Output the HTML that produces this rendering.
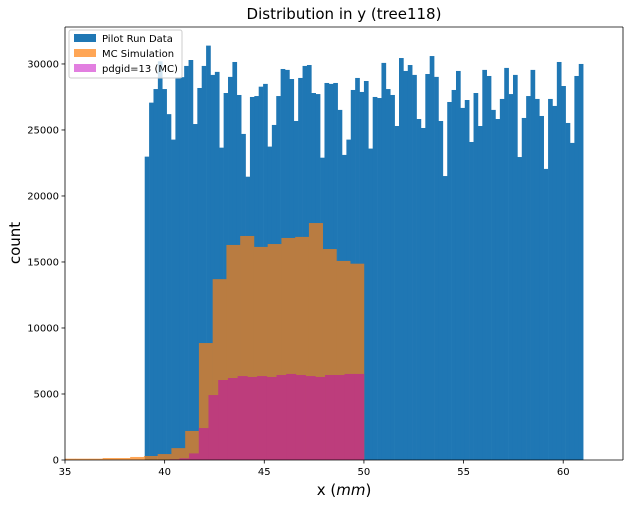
<!DOCTYPE html>
<html><head><meta charset="utf-8">
<style>
body{margin:0;background:#fff;font-family:"Liberation Sans","DejaVu Sans",sans-serif}
svg text{font-family:"DejaVu Sans","Liberation Sans",sans-serif}
</style></head>
<body>
<svg id="chart" width="630" height="506" viewBox="0 0 630 506" xmlns="http://www.w3.org/2000/svg">
<rect width="630" height="506" fill="#fff"/>
<text x="344" y="19" text-anchor="middle" font-size="15">Distribution in y (tree118)</text>
<g id="marks"></g>
<g id="axes"></g>
<text x="344" y="495" text-anchor="middle" font-size="15">x (<tspan font-style="italic">mm</tspan>)</text>
<text transform="translate(20,243) rotate(-90)" text-anchor="middle" font-size="15">count</text>
<g>
<rect x="69" y="30" width="113" height="48" fill="#fff" fill-opacity="0.8" stroke="#ccc" rx="2"/>
<rect x="74" y="34" width="22" height="8" fill="#1f77b4"/>
<text x="102" y="42" font-size="10">Pilot Run Data</text>
<rect x="74" y="49" width="22" height="8" fill="#ffa656"/>
<text x="102" y="57" font-size="10">MC Simulation</text>
<rect x="74" y="64" width="22" height="8" fill="#e27fe0"/>
<text x="102" y="72" font-size="10">pdgid=13 (MC)</text>
</g>
</svg>
<script>
const xTicks=[35,40,45,50,55,60];
const yTicks=[0,5000,10000,15000,20000,25000,30000];
const pilotStart=39, pilotEnd=61;
const pilotCounts=[22980,27070,28100,30200,28100,26200,24270,28990,29000,29850,30300,25450,28180,29850,31390,29170,29400,23660,27800,29020,30150,27650,24700,21460,27500,27570,28280,28490,23740,25380,27570,29620,29550,28860,25680,28940,29850,29920,27800,27720,22900,28560,28490,28560,26520,23110,24270,28030,28940,27880,28710,23590,27500,27420,30080,28100,27650,25300,30450,29470,29920,29170,25830,25150,29240,30600,29020,25680,21510,27120,28030,29470,26670,27270,24090,27800,25300,29550,29090,26520,25830,27350,29700,27720,29170,22950,25910,27570,29550,27350,26060,22050,27350,26820,30150,28330,25530,24020,29090,30000];
const mcStart=34.82, mcEnd=50;
const mcCounts=[100,100,100,150,150,230,300,450,900,2200,8860,13700,16290,16970,16140,16360,16820,16900,17950,15980,15080,14870];
const muStart=40.25, muEnd=50;
const muCounts=[50,130,500,2420,4920,6060,6210,6360,6290,6360,6290,6440,6520,6440,6360,6290,6440,6440,6520,6520];

const X0=65,X1=623,Y0=460,Y1=27,xmin=35,xmax=63,ymax=32800;
const xs=v=>X0+(v-xmin)/(xmax-xmin)*(X1-X0);
const ys=v=>Y0-v/ymax*(Y0-Y1);
const NS='http://www.w3.org/2000/svg';
const marks=document.getElementById('marks');
const axes=document.getElementById('axes');
const clip=document.createElementNS(NS,'clipPath');clip.setAttribute('id','pc');
const cr=document.createElementNS(NS,'rect');cr.setAttribute('x',X0);cr.setAttribute('y',Y1);cr.setAttribute('width',X1-X0);cr.setAttribute('height',Y0-Y1);
clip.appendChild(cr);marks.appendChild(clip);
marks.setAttribute('clip-path','url(#pc)');
function hist(counts,a,b,color,name){
  const w=(b-a)/counts.length;
  counts.forEach((c,i)=>{
    const x0=xs(a+i*w),x1=xs(a+(i+1)*w);
    const r=document.createElementNS(NS,'rect');
    r.setAttribute('x',x0);r.setAttribute('y',ys(c));
    r.setAttribute('width',x1-x0+0.3);r.setAttribute('height',Y0-ys(c));
    r.setAttribute('fill',color);
    
    
    marks.appendChild(r);
  });
}
hist(pilotCounts,pilotStart,pilotEnd,'#1f77b4','pilot-bar');
// mc: brown over blue, orange over white
const mw=(mcEnd-mcStart)/mcCounts.length;
mcCounts.forEach((c,i)=>{
  const a=mcStart+i*mw;
  const col=(a>=pilotStart-0.01)?'#b97c41':'#ffa656';
  const x0=xs(a),x1=xs(a+mw);
  const r=document.createElementNS(NS,'rect');
  r.setAttribute('x',x0);r.setAttribute('y',ys(c));
  r.setAttribute('width',x1-x0+0.3);r.setAttribute('height',Y0-ys(c));
  r.setAttribute('fill',col);
  
  
  marks.appendChild(r);
  if(a<pilotStart && a+mw>pilotStart){
    const r2=document.createElementNS(NS,'rect');
    r2.setAttribute('x',xs(pilotStart));r2.setAttribute('y',ys(c));
    r2.setAttribute('width',x1-xs(pilotStart));r2.setAttribute('height',Y0-ys(c));
    r2.setAttribute('fill','#b97c41');
    
    
    marks.appendChild(r2);
  }
});
hist(muCounts,muStart,muEnd,'#bd3d7c','pdgid-bar');

function line(x1,y1,x2,y2,name){const l=document.createElementNS(NS,'line');l.setAttribute('x1',x1);l.setAttribute('y1',y1);l.setAttribute('x2',x2);l.setAttribute('y2',y2);l.setAttribute('stroke','#000');l.setAttribute('stroke-width','0.8');axes.appendChild(l);}
function txt(x,y,s,anchor,name){const t=document.createElementNS(NS,'text');t.setAttribute('x',x);t.setAttribute('y',y);t.setAttribute('text-anchor',anchor);t.setAttribute('font-size','10');t.textContent=s;axes.appendChild(t);}
line(X0,Y1,X0,Y0,'y-axis-line');line(X1,Y1,X1,Y0,'right-spine');line(X0,Y1,X1,Y1,'top-spine');line(X0,Y0,X1,Y0,'x-axis-line');
xTicks.forEach(v=>{line(xs(v),Y0,xs(v),Y0+3.5,'x-tick');txt(xs(v),Y0+15,String(v),'middle','x-tick-label');});
yTicks.forEach(v=>{line(X0-3.5,ys(v),X0,ys(v),'y-tick');txt(X0-6,ys(v)+3.5,String(v),'end','y-tick-label');});
</script>
</body></html>
